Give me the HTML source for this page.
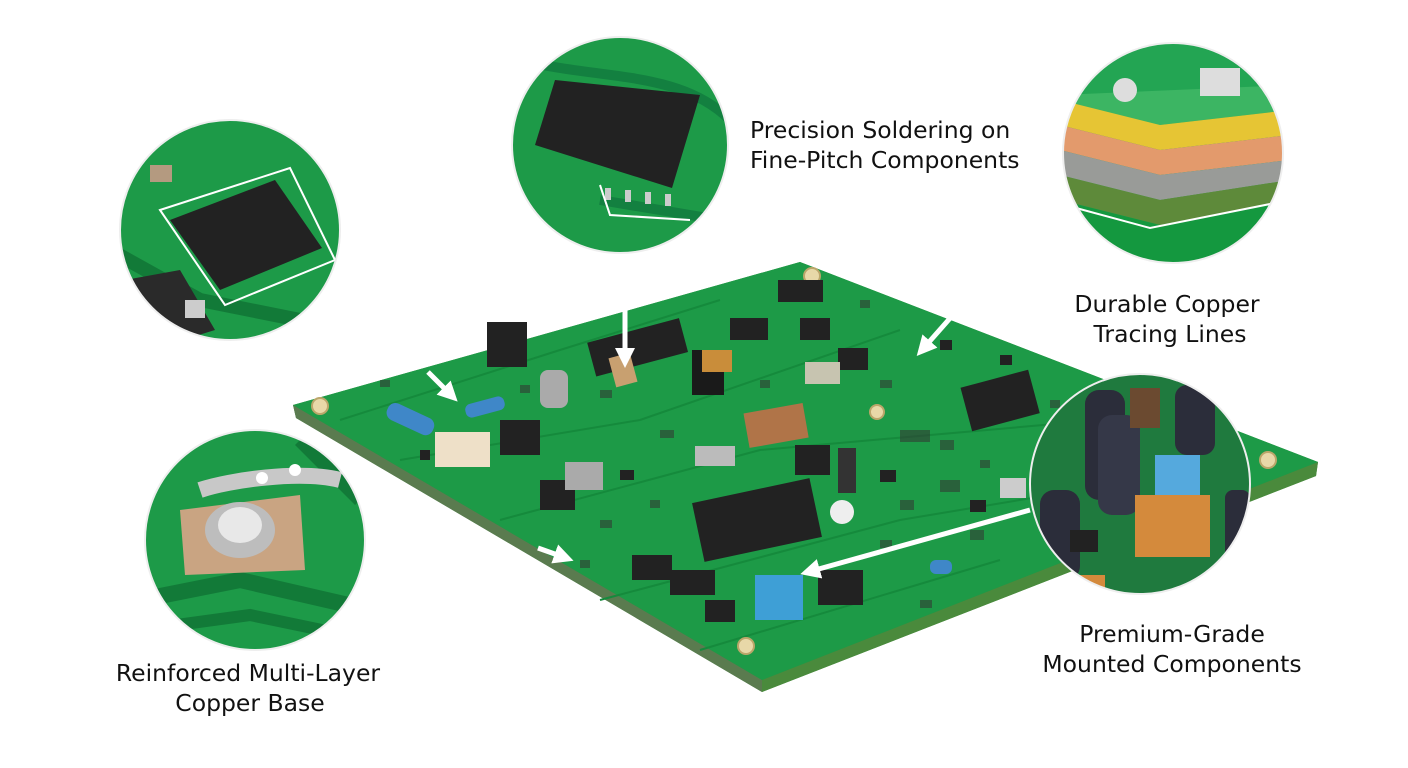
<!DOCTYPE html>
<html><head><meta charset="utf-8"><style>
html,body{margin:0;padding:0;background:#fff;}
svg{display:block}
text{font-family:"DejaVu Sans","Liberation Sans",sans-serif;font-size:23.5px;fill:#111;}
</style></head><body>
<svg width="1408" height="768" viewBox="0 0 1408 768" xmlns="http://www.w3.org/2000/svg">
<defs>
<clipPath id="c1"><circle cx="230" cy="230" r="110"/></clipPath>
<clipPath id="c2"><circle cx="620" cy="145" r="108"/></clipPath>
<clipPath id="c3"><circle cx="1173" cy="153" r="110"/></clipPath>
<clipPath id="c4"><circle cx="255" cy="540" r="110"/></clipPath>
<clipPath id="c5"><circle cx="1140" cy="484" r="110"/></clipPath>
<marker id="ah" viewBox="0 0 10 10" refX="6" refY="5" markerWidth="4" markerHeight="4" orient="auto"><path d="M0,0 L10,5 L0,10 z" fill="#fff"/></marker>
</defs>

<polygon points="293,405 800,262 1318,462 1316,476 762,692 296,418" fill="#3b8f3e"/>
<polygon points="296,418 762,692 762,680 293,405" fill="#5a7b4f"/>
<polygon points="762,692 1316,476 1318,462 762,680" fill="#4a8a3c"/>
<polygon points="293,405 800,262 1318,462 762,680" fill="#1d9a47"/>
<g stroke="#158a3c" stroke-width="2" fill="none">
<path d="M340,420 L560,350 L720,300"/><path d="M400,460 L640,420 L900,330"/><path d="M500,520 L760,450 L1100,420"/><path d="M600,600 L900,520 L1200,470"/><path d="M700,650 L1000,560"/>
</g>
<g fill="#e8d8a8" stroke="#bba66a" stroke-width="2">
<circle cx="320" cy="406" r="8"/><circle cx="812" cy="276" r="8"/><circle cx="1268" cy="460" r="8"/><circle cx="746" cy="646" r="8"/><circle cx="877" cy="412" r="7"/>
</g>
<g fill="#222">
<rect x="487" y="322" width="40" height="45"/>
<rect x="590" y="330" width="95" height="35" transform="rotate(-15 637 347)"/>
<rect x="692" y="350" width="32" height="45" fill="#1a1a1a"/>
<rect x="500" y="420" width="40" height="35"/>
<rect x="730" y="318" width="38" height="22"/>
<rect x="778" y="280" width="45" height="22"/>
<rect x="800" y="318" width="30" height="22"/>
<rect x="838" y="348" width="30" height="22"/>
<rect x="965" y="378" width="70" height="45" transform="rotate(-15 1000 400)"/>
<rect x="697" y="490" width="120" height="60" transform="rotate(-12 757 520)"/>
<rect x="795" y="445" width="35" height="30"/>
<rect x="540" y="480" width="35" height="30"/>
<rect x="632" y="555" width="40" height="25"/>
<rect x="818" y="570" width="45" height="35"/>
<rect x="705" y="600" width="30" height="22"/>
<rect x="670" y="570" width="45" height="25"/>
<rect x="838" y="448" width="18" height="45" fill="#333"/>
<rect x="940" y="340" width="12" height="10"/><rect x="1000" y="355" width="12" height="10"/><rect x="880" y="470" width="16" height="12"/><rect x="970" y="500" width="16" height="12"/><rect x="620" y="470" width="14" height="10"/><rect x="420" y="450" width="10" height="10"/>
</g>
<rect x="540" y="370" width="28" height="38" rx="8" fill="#aaa"/>
<rect x="612" y="355" width="22" height="30" fill="#c8a070" transform="rotate(-15 623 370)"/>
<rect x="702" y="350" width="30" height="22" fill="#c98d3a"/>
<rect x="746" y="408" width="60" height="35" fill="#b07448" transform="rotate(-10 776 425)"/>
<rect x="435" y="432" width="55" height="35" fill="#eee0c8"/>
<rect x="385" y="410" width="50" height="18" rx="8" fill="#3f87c8" transform="rotate(25 410 420)"/>
<rect x="465" y="400" width="40" height="14" rx="6" fill="#3f87c8" transform="rotate(-15 485 407)"/>
<rect x="755" y="575" width="48" height="45" fill="#3e9fd6"/>
<rect x="930" y="560" width="22" height="14" rx="6" fill="#3f87c8"/>
<rect x="805" y="362" width="35" height="22" fill="#c7c4b0"/>
<rect x="695" y="446" width="40" height="20" fill="#bbb"/>
<rect x="565" y="462" width="38" height="28" fill="#aaa"/>
<rect x="1000" y="478" width="26" height="20" fill="#ccc"/>
<circle cx="842" cy="512" r="12" fill="#eee"/>
<g fill="#333" opacity=".55">
<rect x="380" y="380" width="10" height="7"/><rect x="600" y="390" width="12" height="8"/><rect x="660" y="430" width="14" height="8"/><rect x="880" y="380" width="12" height="8"/><rect x="940" y="440" width="14" height="10"/><rect x="900" y="500" width="14" height="10"/><rect x="970" y="530" width="14" height="10"/><rect x="600" y="520" width="12" height="8"/><rect x="880" y="540" width="12" height="8"/><rect x="920" y="600" width="12" height="8"/><rect x="520" y="385" width="10" height="8"/><rect x="900" y="430" width="30" height="12"/><rect x="940" y="480" width="20" height="12"/>
<rect x="650" y="500" width="10" height="8"/><rect x="580" y="560" width="10" height="8"/><rect x="760" y="380" width="10" height="8"/><rect x="860" y="300" width="10" height="8"/><rect x="980" y="460" width="10" height="8"/><rect x="1050" y="400" width="10" height="8"/>
</g>

<g stroke="#fff" stroke-width="5" fill="none" marker-end="url(#ah)">
<line x1="625" y1="308" x2="625" y2="360"/>
<line x1="952" y1="316" x2="922" y2="350"/>
<line x1="428" y1="372" x2="452" y2="396"/>
<line x1="1030" y1="510" x2="808" y2="572"/>
<line x1="538" y1="548" x2="566" y2="558"/>
</g>

<g clip-path="url(#c1)">
<rect x="110" y="110" width="240" height="240" fill="#1d9a48"/>
<path d="M110,250 L200,300 L350,330" stroke="#127a38" stroke-width="14" fill="none"/>
<path d="M160,210 L290,168 L335,260 L225,305 Z" fill="none" stroke="#fff" stroke-width="2"/>
<polygon points="170,220 275,180 322,248 220,290" fill="#222"/>
<rect x="150" y="165" width="22" height="17" fill="#b49a80"/>
<polygon points="125,280 180,270 215,330 150,350" fill="#2a2a2a"/>
<rect x="185" y="300" width="20" height="18" fill="#ccc"/>
</g>
<circle cx="230" cy="230" r="110" fill="none" stroke="#eee" stroke-width="2"/>

<g clip-path="url(#c2)">
<rect x="510" y="35" width="220" height="220" fill="#1d9a48"/>
<path d="M520,60 C600,80 680,70 730,120" stroke="#138040" stroke-width="10" fill="none"/>
<path d="M600,200 L720,220" stroke="#138040" stroke-width="10"/>
<polygon points="535,145 555,80 700,95 672,188" fill="#222"/>
<g fill="#ccc"><rect x="605" y="188" width="6" height="12"/><rect x="625" y="190" width="6" height="12"/><rect x="645" y="192" width="6" height="12"/><rect x="665" y="194" width="6" height="12"/></g>
<path d="M600,185 L610,215 L690,220" stroke="#fff" stroke-width="2" fill="none"/>
</g>
<circle cx="620" cy="145" r="108" fill="none" stroke="#eee" stroke-width="2"/>

<g clip-path="url(#c3)">
<rect x="1060" y="40" width="230" height="230" fill="#23a553"/>
<polygon points="1060,95 1290,85 1290,110 1160,125 1060,100" fill="#3cb563"/>
<polygon points="1060,100 1160,125 1290,110 1290,135 1160,150 1060,125" fill="#e6c534"/>
<polygon points="1060,125 1160,150 1290,135 1290,160 1160,175 1060,150" fill="#e39a6c"/>
<polygon points="1060,150 1160,175 1290,160 1290,180 1160,200 1060,175" fill="#999b98"/>
<polygon points="1060,175 1160,200 1290,180 1290,200 1160,225 1060,200" fill="#5e8a3a"/>
<polygon points="1060,200 1160,225 1290,200 1290,270 1060,270" fill="#14983f"/>
<path d="M1065,205 L1150,228 L1290,200" stroke="#fff" stroke-width="2" fill="none"/>
<rect x="1200" y="68" width="40" height="28" fill="#ddd"/>
<circle cx="1125" cy="90" r="12" fill="#ddd"/>
</g>
<circle cx="1173" cy="153" r="110" fill="none" stroke="#eee" stroke-width="2"/>

<g clip-path="url(#c4)">
<rect x="140" y="425" width="230" height="230" fill="#1d9a48"/>
<path d="M140,600 L240,580 L370,610" stroke="#127a38" stroke-width="16" fill="none"/>
<path d="M140,630 L250,615 L370,640" stroke="#127a38" stroke-width="12" fill="none"/>
<path d="M300,440 L360,500" stroke="#127a38" stroke-width="14"/>
<polygon points="180,510 300,495 305,570 185,575" fill="#c9a482"/>
<ellipse cx="240" cy="530" rx="35" ry="28" fill="#bdbdbd"/>
<ellipse cx="240" cy="525" rx="22" ry="18" fill="#e8e8e8"/>
<path d="M200,490 C230,480 300,470 340,480" stroke="#c8c8c8" stroke-width="16" fill="none"/>
<circle cx="262" cy="478" r="6" fill="#fff"/><circle cx="295" cy="470" r="6" fill="#fff"/>
</g>
<circle cx="255" cy="540" r="110" fill="none" stroke="#eee" stroke-width="2"/>

<g clip-path="url(#c5)">
<rect x="1025" y="370" width="230" height="230" fill="#1f7a3e"/>
<rect x="1085" y="390" width="40" height="110" rx="14" fill="#2b2d3a"/>
<rect x="1098" y="415" width="42" height="100" rx="14" fill="#353848"/>
<rect x="1175" y="385" width="40" height="70" rx="12" fill="#2b2d3a"/>
<rect x="1130" y="388" width="30" height="40" fill="#6b4a30"/>
<rect x="1155" y="455" width="45" height="42" fill="#55a9dd"/>
<rect x="1135" y="495" width="75" height="62" fill="#d48a3c"/>
<rect x="1040" y="490" width="40" height="90" rx="14" fill="#2b2d3a"/>
<rect x="1225" y="490" width="25" height="70" rx="8" fill="#2b2d3a"/>
<rect x="1075" y="575" width="30" height="25" fill="#d48a3c"/>
<rect x="1070" y="530" width="28" height="22" fill="#222"/>
</g>
<circle cx="1140" cy="484" r="110" fill="none" stroke="#eee" stroke-width="2"/>

<text x="750" y="138">Precision Soldering on</text>
<text x="750" y="168">Fine-Pitch Components</text>
<text x="1167" y="312" text-anchor="middle">Durable Copper</text>
<text x="1170" y="342" text-anchor="middle">Tracing Lines</text>
<text x="1172" y="642" text-anchor="middle">Premium-Grade</text>
<text x="1172" y="672" text-anchor="middle">Mounted Components</text>
<text x="248" y="681" text-anchor="middle">Reinforced Multi-Layer</text>
<text x="250" y="711" text-anchor="middle">Copper Base</text>
</svg>
</body></html>
